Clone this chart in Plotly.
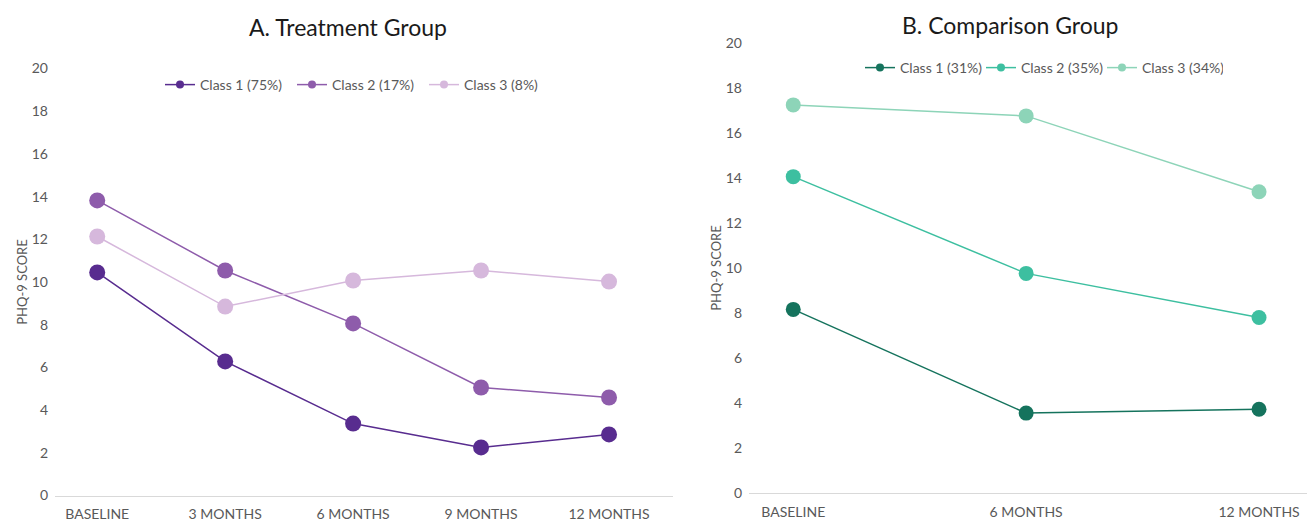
import plotly.graph_objects as go

cats_a = ["BASELINE", "3 MONTHS", "6 MONTHS", "9 MONTHS", "12 MONTHS"]
a_class1 = [10.45, 6.28, 3.37, 2.25, 2.86]
a_class2 = [13.82, 10.54, 8.06, 5.06, 4.59]
a_class3 = [12.13, 8.85, 10.07, 10.54, 10.02]
a_names = ["Class 1 (75%)", "Class 2 (17%)", "Class 3 (8%)"]
a_colors = ["#582C8F", "#8E5CAB", "#D6B8DC"]

cats_b = ["BASELINE", "6 MONTHS", "12 MONTHS"]
b_class1 = [8.16, 3.55, 3.72]
b_class2 = [14.06, 9.76, 7.80]
b_class3 = [17.25, 16.76, 13.39]
b_names = ["Class 1 (31%)", "Class 2 (35%)", "Class 3 (34%)"]
b_colors = ["#15735D", "#3DBFA0", "#8DD4B8"]

yticks = [0, 2, 4, 6, 8, 10, 12, 14, 16, 18, 20]

FONT = "Lato, 'Open Sans', sans-serif"
W, H = 1307, 523

fig = go.Figure()

def add_series(cats, vals, name, color, xa, ya, leg, msize):
    fig.add_trace(go.Scatter(
        x=cats, y=vals, mode="lines+markers", name=name,
        line=dict(color=color, width=1.5),
        marker=dict(color=color, size=msize),
        xaxis=xa, yaxis=ya, showlegend=False, legendgroup=name,
        hoverinfo="skip"))
    fig.add_trace(go.Scatter(
        x=[None], y=[None], mode="lines+markers", name=name,
        line=dict(color=color, width=1.5),
        marker=dict(color=color, size=8),
        xaxis=xa, yaxis=ya, showlegend=True, legendgroup=name, legend=leg))

for vals, nm, col in zip([a_class1, a_class2, a_class3], a_names, a_colors):
    add_series(cats_a, vals, nm, col, "x", "y", "legend", 16)
for vals, nm, col in zip([b_class1, b_class2, b_class3], b_names, b_colors):
    add_series(cats_b, vals, nm, col, "x2", "y2", "legend2", 15)

tick_font = dict(family=FONT, size=14, color="#595959")
axis_common = dict(showgrid=False, zeroline=False, tickfont=tick_font, ticks="",
                   automargin=False)
ytitle_font = dict(family=FONT, size=13, color="#595959")

fig.update_layout(
    width=W, height=H,
    margin=dict(l=0, r=0, t=0, b=0, autoexpand=False),
    paper_bgcolor="white", plot_bgcolor="white",
    font=dict(family=FONT, color="#595959"),
    xaxis=dict(domain=[55 / W, 673 / W], type="category", categoryorder="array",
               categoryarray=cats_a, range=[-0.33, 4.5], showline=True,
               linecolor="#D9D9D9", linewidth=1, anchor="y", ticklabelstandoff=6,
               **axis_common),
    yaxis=dict(domain=[(H - 495.5) / H, (H - 68.5) / H], range=[0, 20],
               tickvals=yticks, anchor="x", showline=False, ticklabelstandoff=6,
               title=dict(text="PHQ-9 SCORE", font=ytitle_font, standoff=1),
               **axis_common),
    xaxis2=dict(domain=[749 / W, 1.0], type="category", categoryorder="array",
                categoryarray=cats_b, range=[-0.19, 2.206], showline=True,
                linecolor="#D9D9D9", linewidth=1, anchor="y2", ticklabelstandoff=6,
                **axis_common),
    yaxis2=dict(domain=[(H - 493) / H, (H - 43) / H], range=[0, 20],
                tickvals=yticks, anchor="x2", showline=False, ticklabelstandoff=6,
                title=dict(text="PHQ-9 SCORE", font=ytitle_font, standoff=1),
                **axis_common),
    legend=dict(orientation="h", x=160 / W, y=1 - 85 / H, xanchor="left", yanchor="middle",
                font=dict(family=FONT, size=14, color="#595959"), bgcolor="rgba(0,0,0,0)",
                itemwidth=30, tracegroupgap=0, entrywidth=87, entrywidthmode="pixels"),
    legend2=dict(orientation="h", x=860 / W, y=1 - 68 / H, xanchor="left", yanchor="middle",
                 font=dict(family=FONT, size=14, color="#595959"), bgcolor="rgba(0,0,0,0)",
                 itemwidth=30, tracegroupgap=0, entrywidth=76, entrywidthmode="pixels"),
    annotations=[
        dict(text="A. Treatment Group", x=348 / W, y=1 - 27 / H, xref="paper", yref="paper",
             xanchor="center", yanchor="middle", showarrow=False,
             font=dict(family=FONT, size=23, color="#1a1a1a")),
        dict(text="B. Comparison Group", x=1010 / W, y=1 - 25 / H, xref="paper", yref="paper",
             xanchor="center", yanchor="middle", showarrow=False,
             font=dict(family=FONT, size=23, color="#1a1a1a")),
    ],
)

fig.write_html("out.html")
